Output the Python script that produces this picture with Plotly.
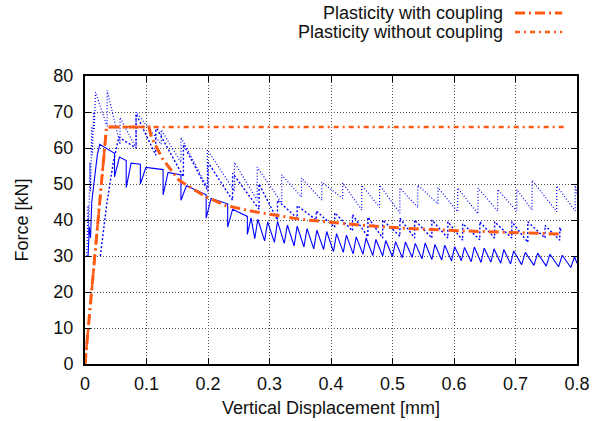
import plotly.graph_objects as go

# ---- numerical models ----
coupled_disp = [0.0, 0.035, 0.104, 0.108, 0.126, 0.153, 0.197, 0.229, 0.279, 0.35, 0.446, 0.52, 0.609, 0.69, 0.772]
coupled_force = [0.0, 65.8, 65.8, 63.0, 57.0, 51.0, 46.4, 44.0, 42.2, 40.2, 38.6, 37.7, 37.0, 36.5, 36.1]

plastic_disp = [0.0, 0.035, 0.78]
plastic_force = [0.0, 65.8, 65.8]

# ---- test 1 (solid) ----
# initial rise
t1_rise_disp = [0.005, 0.007, 0.009, 0.011, 0.013, 0.016, 0.020, 0.024]
t1_rise_force = [30.0, 38.0, 35.0, 45.0, 48.0, 53.0, 58.0, 61.0]
# first cracking cycles: sudden drop, reload, slow decline
t1_drop_disp = [0.048, 0.067, 0.090, 0.127, 0.156, 0.197, 0.232, 0.264]
t1_drop_top = [58.5, 56.5, 55.5, 54.0, 52.5, 47.0, 44.5, 41.0]
t1_drop_bottom = [52.0, 49.0, 50.0, 47.0, 45.5, 40.5, 38.0, 36.0]
t1_reload_disp = [0.056, 0.075, 0.099, 0.135, 0.165, 0.205, 0.240, 0.270]
t1_reload_force = [57.5, 55.8, 54.6, 53.2, 49.5, 46.0, 43.0, 40.6]
# residual stage: dense zigzag between valleys and peaks
t1_valley_disp = [0.276, 0.292, 0.308, 0.324, 0.340, 0.356, 0.372, 0.388, 0.404, 0.420,
                  0.436, 0.452, 0.468, 0.484, 0.500, 0.516, 0.532, 0.548, 0.564, 0.580,
                  0.596, 0.612, 0.628, 0.644, 0.660, 0.676, 0.692, 0.710, 0.730, 0.750,
                  0.770, 0.790]
t1_valley_force = [34.8, 34.2, 33.8, 33.5, 32.8, 32.5, 32.0, 31.8, 31.2, 31.0,
                   30.6, 30.5, 30.1, 30.0, 29.8, 29.5, 29.6, 29.2, 29.0, 28.9,
                   28.6, 28.7, 28.4, 28.2, 28.3, 28.0, 27.8, 27.6, 27.4, 27.2,
                   27.0, 26.8]
t1_peak_disp = [0.281, 0.297, 0.313, 0.329, 0.345, 0.361, 0.377, 0.393, 0.409, 0.425,
                0.441, 0.457, 0.473, 0.489, 0.505, 0.521, 0.537, 0.553, 0.569, 0.585,
                0.601, 0.617, 0.633, 0.649, 0.665, 0.681, 0.697, 0.716, 0.736, 0.756,
                0.776, 0.796]
t1_peak_force = [40.2, 39.5, 39.6, 38.6, 38.3, 37.6, 37.2, 36.8, 36.2, 35.8,
                 35.3, 35.0, 34.6, 34.3, 34.0, 33.9, 33.5, 33.6, 33.2, 33.0,
                 32.6, 32.4, 32.5, 32.2, 32.0, 31.8, 31.4, 31.0, 30.8, 30.5,
                 30.2, 29.8]
t1_end = (0.8, 28.0)

# ---- test 2 (dotted, upper) ----
t2_rise_disp = [0.003, 0.005, 0.006, 0.008, 0.009, 0.011, 0.012, 0.014, 0.015, 0.017]
t2_rise_force = [30.0, 44.0, 36.0, 56.0, 48.0, 66.0, 58.0, 70.0, 65.0, 75.5]
t2_drop_disp = [0.036, 0.057, 0.083, 0.124, 0.156, 0.199, 0.243, 0.280, 0.320, 0.352,
                0.385, 0.419, 0.450, 0.479, 0.512, 0.541, 0.574, 0.606, 0.639, 0.671,
                0.702, 0.727, 0.767, 0.797]
t2_drop_low = [66.0, 61.0, 60.0, 61.0, 56.0, 49.0, 48.0, 45.5, 44.7, 46.4,
               45.5, 46.0, 42.8, 43.5, 41.9, 43.5, 44.5, 42.3, 41.7, 42.5,
               42.5, 42.8, 42.3, 42.5]
t2_drop_high = [76.0, 68.5, 70.0, 65.0, 63.0, 59.5, 56.0, 54.7, 52.5, 51.7,
                50.5, 50.3, 49.7, 49.7, 48.9, 49.7, 49.0, 48.9, 48.9, 48.5,
                48.5, 51.0, 49.5, 50.0]
t2_end = (0.8, 47.0)

# ---- test 3 (dotted, middle) ----
t3_rise_disp = [0.025, 0.035, 0.046, 0.055]
t3_rise_force = [30.0, 44.0, 56.0, 63.0]
t3_drop_disp = [0.083, 0.115, 0.160, 0.200, 0.240, 0.283, 0.313, 0.345, 0.376, 0.406,
                0.435, 0.460, 0.484, 0.512, 0.536, 0.564, 0.590, 0.614, 0.642, 0.666,
                0.694, 0.720, 0.748, 0.772]
t3_drop_low = [60.0, 58.0, 52.0, 48.0, 45.5, 43.0, 40.0, 40.5, 40.0, 38.0,
               37.0, 35.3, 35.0, 35.5, 35.0, 35.0, 35.0, 34.4, 34.5, 35.0,
               35.0, 33.8, 35.0, 34.4]
t3_drop_high = [69.5, 66.0, 61.0, 56.0, 53.0, 50.0, 45.5, 44.0, 42.5, 42.0,
                41.5, 40.8, 40.0, 40.5, 40.0, 40.0, 39.5, 39.0, 39.5, 39.5,
                39.5, 39.5, 38.5, 38.0]
t3_end = (0.775, 36.5)

x_ticks = [0.0, 0.1, 0.2, 0.3, 0.4, 0.5, 0.6, 0.7, 0.8]
x_tick_text = ["0", "0.1", "0.2", "0.3", "0.4", "0.5", "0.6", "0.7", "0.8"]
y_ticks = [0, 10, 20, 30, 40, 50, 60, 70, 80]

legend_labels = ["Plasticity with coupling", "Plasticity without coupling"]

ORANGE = "#ff5a14"
BLUE = "#0000ff"
FONT = "Liberation Sans, Arial, sans-serif"
TEXT = "#111111"


def sawtooth(rise_x, rise_y, drop_x, low, high, end):
    """Initial rise, then a vertical jump at each position followed by a
    straight decline to the next one."""
    xs, ys = list(rise_x), list(rise_y)
    for x, lo, hi in zip(drop_x, low, high):
        xs += [x, x]
        ys += [lo, hi]
    xs.append(end[0])
    ys.append(end[1])
    return xs, ys


fig = go.Figure()

# test 1 path
x1, y1 = list(t1_rise_disp), list(t1_rise_force)
for dx, t, b, rx, ry in zip(t1_drop_disp, t1_drop_top, t1_drop_bottom, t1_reload_disp, t1_reload_force):
    x1 += [dx, dx, rx]
    y1 += [t, b, ry]
for vx, vf, px, pf in zip(t1_valley_disp, t1_valley_force, t1_peak_disp, t1_peak_force):
    x1 += [vx, px]
    y1 += [vf, pf]
x1.append(t1_end[0])
y1.append(t1_end[1])

x2, y2 = sawtooth(t2_rise_disp, t2_rise_force, t2_drop_disp, t2_drop_low, t2_drop_high, t2_end)
x3, y3 = sawtooth(t3_rise_disp, t3_rise_force, t3_drop_disp, t3_drop_low, t3_drop_high, t3_end)

fig.add_trace(go.Scatter(x=x1, y=y1, mode="lines", line=dict(color=BLUE, width=1.1), showlegend=False))
fig.add_trace(go.Scatter(x=x2, y=y2, mode="lines", line=dict(color=BLUE, width=1.2, dash="1px,2px"), showlegend=False))
fig.add_trace(go.Scatter(x=x3, y=y3, mode="lines", line=dict(color=BLUE, width=1.4, dash="2px,2px"), showlegend=False))

fig.add_trace(go.Scatter(x=plastic_disp, y=plastic_force, mode="lines",
                         line=dict(color=ORANGE, width=2.5, dash="5px,4px,2px,4px"), showlegend=False))
fig.add_trace(go.Scatter(x=coupled_disp, y=coupled_force, mode="lines",
                         line=dict(color=ORANGE, width=3, dash="10px,4px,2px,4px"), showlegend=False))

# legend drawn as text + sample lines, text to the left of the samples
legend_dash = ["10px,4px,2px,4px", "5px,4px,2px,4px"]
legend_width = [3, 2.5]
legend_y = [1.219, 1.153]
for label, dash, w, ly in zip(legend_labels, legend_dash, legend_width, legend_y):
    fig.add_annotation(x=0.854, y=ly, xref="paper", yref="paper", text=label,
                       showarrow=False, xanchor="right", yanchor="middle",
                       font=dict(family=FONT, size=18, color=TEXT))
    fig.add_shape(type="line", xref="paper", yref="paper", x0=0.874, x1=0.970, y0=ly, y1=ly,
                  line=dict(color=ORANGE, width=w, dash=dash))

axis_common = dict(
    showline=True, linecolor="black", linewidth=2, mirror="allticks",
    ticks="inside", ticklen=6, tickwidth=1, tickcolor="black",
    showgrid=True, gridcolor="#555", gridwidth=1, griddash="1px,2px",
    zeroline=False, automargin=False, tickfont=dict(family=FONT, size=18, color=TEXT),
)

fig.update_xaxes(range=[0, 0.8], tickvals=x_ticks, ticktext=x_tick_text, ticklabelstandoff=2,
                 title=dict(text="Vertical Displacement [mm]", font=dict(family=FONT, size=18, color=TEXT), standoff=9),
                 **axis_common)
fig.update_yaxes(range=[0, 80], tickvals=y_ticks, ticklabelstandoff=6,
                 title=dict(text="Force [kN]", font=dict(family=FONT, size=18, color=TEXT), standoff=20),
                 **axis_common)

fig.update_layout(width=592, height=421, margin=dict(l=85, r=15, t=76, b=57),
                  plot_bgcolor="white", paper_bgcolor="white")

fig.write_html("out.html")
